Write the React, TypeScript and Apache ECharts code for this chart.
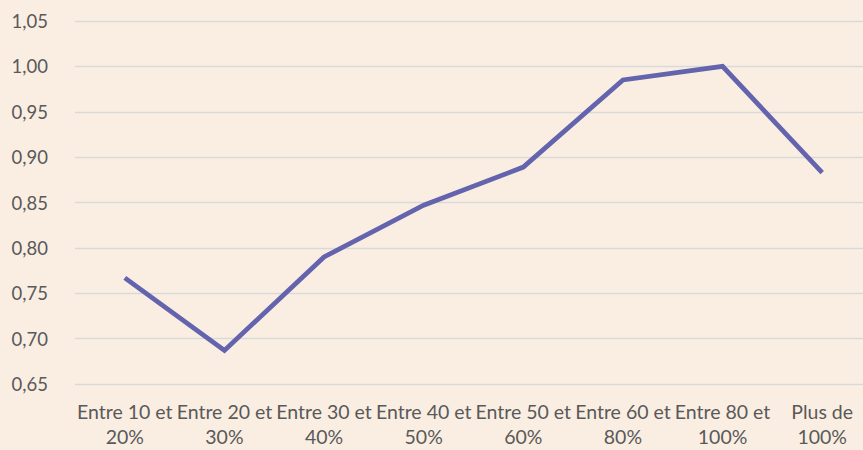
import React, { useEffect, useRef } from "react";
import * as echarts from "echarts";

const categories = [
  "Entre 10 et\n20%",
  "Entre 20 et\n30%",
  "Entre 30 et\n40%",
  "Entre 40 et\n50%",
  "Entre 50 et\n60%",
  "Entre 60 et\n80%",
  "Entre 80 et\n100%",
  "Plus de\n100%",
];
const values = [0.767, 0.687, 0.79, 0.847, 0.889, 0.985, 1.0, 0.883];

export default function App() {
  const ref = useRef<HTMLDivElement>(null);
  useEffect(() => {
    document.body.style.margin = "0";
    if (!ref.current) return;
    const chart = echarts.init(ref.current, null, { renderer: "svg" });
    chart.setOption({
      animation: false,
      backgroundColor: "#FAEEE2",
      grid: { left: 75, right: 0, top: 21, bottom: 66, containLabel: false },
      xAxis: {
        type: "category",
        data: categories,
        boundaryGap: true,
        axisLine: { show: false },
        axisTick: { show: false },
        axisLabel: {
          color: "#595959",
          fontSize: 19.5,
          fontFamily: "Lato",
          lineHeight: 25,
          margin: 15,
          interval: 0,
        },
      },
      yAxis: {
        type: "value",
        min: 0.65,
        max: 1.05,
        interval: 0.05,
        axisLine: { show: false },
        axisTick: { show: false },
        splitLine: { lineStyle: { color: "#D9D9D9", width: 1.3 } },
        axisLabel: {
          color: "#595959",
          fontSize: 18.5,
          fontFamily: "Lato",
          margin: 27,
          formatter: (v: number) => v.toFixed(2).replace(".", ","),
        },
      },
      series: [
        {
          type: "line",
          data: values,
          symbol: "none",
          lineStyle: { color: "#6464AE", width: 4.8, join: "miter" },
        },
      ],
    });
    return () => chart.dispose();
  }, []);
  return (
    <div style={{ width: 863, height: 450, overflow: "hidden", background: "#FAEEE2" }}>
      <div ref={ref} style={{ width: 872, height: 450 }} />
    </div>
  );
}
